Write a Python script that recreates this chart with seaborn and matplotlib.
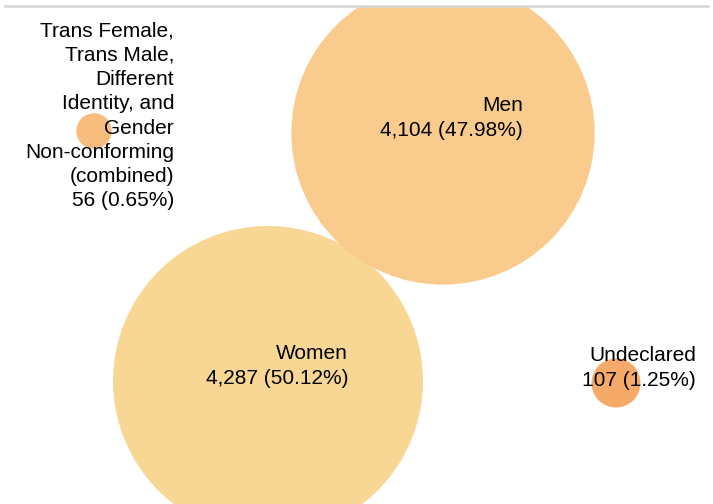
import textwrap
import matplotlib
matplotlib.use("Agg")
import matplotlib.pyplot as plt
import numpy as np
import pandas as pd
import seaborn as sns

# ---- data ----
categories = [
    "Women",
    "Men",
    "Undeclared",
    "Trans Female, Trans Male, Different Identity, and Gender Non-conforming (combined)",
]
counts = [4287, 4104, 107, 56]
percents = [50.12, 47.98, 1.25, 0.65]

# ---- layout (packed bubble centres, pixel space) ----
x_pos = [268, 443, 616, 94]
y_pos = [381, 133, 383, 131]
colors = ["#F8D794", "#F9CB8C", "#F5AA6A", "#F7BC7E"]

sns.set_theme(style="white")
plt.rcParams["font.family"] = ["Liberation Sans", "DejaVu Sans"]

fig = plt.figure(figsize=(7.13, 5.04), dpi=100)
fig.patch.set_facecolor("white")
ax = fig.add_axes([5 / 713, 0, 703 / 713, 498 / 504])

df = pd.DataFrame({"category": categories, "count": counts, "x": x_pos, "y": y_pos})
k = 11.62  # marker area (pt^2) per unit count -> area proportional to value
sns.scatterplot(
    data=df, x="x", y="y", hue="category",
    palette=dict(zip(categories, colors)),
    size="count", sizes=(k * min(counts), k * max(counts)),
    size_norm=(min(counts), max(counts)),
    linewidth=0, alpha=1, legend=False, ax=ax,
)

ax.set_xlim(5, 708)
ax.set_ylim(504, 6)
for s in ["left", "right", "bottom"]:
    ax.spines[s].set_visible(False)
ax.spines["top"].set_color("#d6d6d6")
ax.spines["top"].set_linewidth(1.8)
ax.set_xticks([])
ax.set_yticks([])
ax.set_xlabel("")
ax.set_ylabel("")

for cat, c, p, x, y in zip(categories, counts, percents, x_pos, y_pos):
    lines = textwrap.wrap(cat, 14, break_on_hyphens=False)
    label = "\n".join(lines) + "\n" + f"{c:,} ({p:.2f}%)"
    ax.text(x + 80, y - 15, label, ha="right", va="center", fontsize=15,
            linespacing=1.35, color="black")

fig.savefig("out.png", dpi=100, facecolor="white")
